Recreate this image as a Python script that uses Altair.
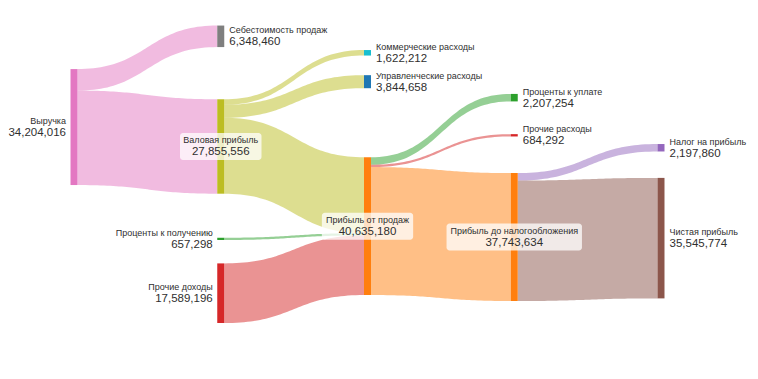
import altair as alt
import pandas as pd
import numpy as np

# ---------------- data ----------------
node_names = ["Выручка", "Себестоимость продаж", "Валовая прибыль", "Проценты к получению",
              "Прочие доходы", "Коммерческие расходы", "Управленческие расходы",
              "Прибыль от продаж", "Проценты к уплате", "Прочие расходы",
              "Прибыль до налогообложения", "Налог на прибыль", "Чистая прибыль"]
node_values = [34204016, 6348460, 27855556, 657298, 17589196, 1622212, 3844658,
               40635180, 2207254, 684292, 37743634, 2197860, 35545774]
node_colors = ["#e377c2", "#7f7f7f", "#bcbd22", "#2ca02c", "#d62728", "#17becf", "#1f77b4",
               "#ff7f0e", "#2ca02c", "#d62728", "#ff7f0e", "#9467bd", "#8c564b"]

link_source = [0, 0, 2, 2, 2, 3, 4, 7, 7, 7, 10, 10]
link_target = [1, 2, 5, 6, 7, 7, 7, 8, 9, 10, 11, 12]
link_values = [6348460, 27855556, 1622212, 3844658, 22388686, 657298, 17589196,
               2207254, 684292, 37743634, 2197860, 35545774]
link_colors = ["#e377c2", "#e377c2", "#bcbd22", "#bcbd22", "#bcbd22", "#2ca02c", "#d62728",
               "#2ca02c", "#d62728", "#ff7f0e", "#9467bd", "#8c564b"]

# ---------------- layout parameters (like plotly node.x / node.y) ----------------
node_col = [0, 1, 1, 1, 1, 2, 2, 2, 3, 3, 3, 4, 4]
node_ypos = [0.328, 0.078, 0.3815, 0.636, 0.7857, 0.1234, 0.203, 0.601,
             0.247, 0.3507, 0.631, 0.385, 0.634]
node_side = ["left", "right", "center", "left", "left", "right", "right", "center",
             "right", "right", "center", "right", "right"]

W, H = 742, 363
PX_COL = 146.75
X0 = 62.5
NODE_W = 7 / PX_COL
PX_PER_VAL = 3.39e-6
xdom = [-X0 / PX_COL, (W - X0) / PX_COL]
ymax = H / PX_PER_VAL
ydom = [0, ymax]

n = len(node_names)
top = [node_ypos[i] * ymax - node_values[i] / 2 for i in range(n)]

# link stacking
out_off = {}
in_off = {}
for i in range(n):
    outs = sorted([k for k in range(len(link_source)) if link_source[k] == i],
                  key=lambda k: node_ypos[link_target[k]])
    acc = top[i]
    for k in outs:
        out_off[k] = acc
        acc += link_values[k]
    ins = sorted([k for k in range(len(link_target)) if link_target[k] == i],
                 key=lambda k: node_ypos[link_source[k]])
    acc = top[i]
    for k in ins:
        in_off[k] = acc
        acc += link_values[k]

X = lambda f: alt.X(f, type="quantitative", scale=alt.Scale(domain=xdom), axis=None)
Y = lambda f: alt.Y(f, type="quantitative", scale=alt.Scale(domain=ydom, reverse=True),
                    axis=None, stack=None)

ts = np.linspace(0, 1, 49)
link_layers = []
for k in range(len(link_source)):
    s, t_ = link_source[k], link_target[k]
    x0 = node_col[s] + NODE_W
    x1 = node_col[t_]
    xm = (x0 + x1) / 2
    ya, yb = out_off[k], in_off[k]
    rows = []
    for t in ts:
        x = (1 - t) ** 3 * x0 + 3 * (1 - t) ** 2 * t * xm + 3 * (1 - t) * t ** 2 * xm + t ** 3 * x1
        f = 3 * t ** 2 - 2 * t ** 3
        y = ya + (yb - ya) * f
        rows.append({"x": float(x), "ya": float(y), "yb": float(y + link_values[k])})
    link_layers.append(
        alt.Chart(pd.DataFrame(rows)).mark_area(
            opacity=0.5, interpolate="linear", color=link_colors[k]
        ).encode(x=X("x"), y=Y("ya"), y2="yb:Q")
    )

nodes_df = pd.DataFrame({
    "name": node_names,
    "x": node_col,
    "x2": [c + NODE_W for c in node_col],
    "y": top,
    "y2": [top[i] + node_values[i] for i in range(n)],
    "color": node_colors,
})

lab = pd.DataFrame({
    "name": node_names,
    "val": [f"{v:,}" for v in node_values],
    "side": node_side,
    "xl": node_col,
    "xr": [c + NODE_W for c in node_col],
    "xc": [c + NODE_W / 2 for c in node_col],
    "yc": [node_ypos[i] * ymax for i in range(n)],
})
box = lab[lab.side == "center"].copy()
bw = np.array([(4.9 * len(s) + 8) / PX_COL for s in box["name"]])
box["bx"] = box["xc"] - bw / 2
box["bx2"] = box["xc"] + bw / 2
box["by"] = box["yc"] - 13.5 / PX_PER_VAL
box["by2"] = box["yc"] + 13.5 / PX_PER_VAL

nodes = alt.Chart(nodes_df).mark_rect().encode(
    x=X("x"), x2="x2:Q", y=Y("y"), y2="y2:Q", color=alt.Color("color:N", scale=None))

boxes = alt.Chart(box).mark_rect(color="white", opacity=0.75, cornerRadius=3).encode(
    x=X("bx"), x2="bx2:Q", y=Y("by"), y2="by2:Q")

FONT = "Liberation Sans"
TXT = "#2f2f2f"
layers = link_layers + [nodes, boxes]
for side, xf, align, dx in [("left", "xl", "right", -4.5), ("right", "xr", "left", 5),
                            ("center", "xc", "center", 0)]:
    d = lab[lab.side == side]
    layers.append(alt.Chart(d).mark_text(align=align, baseline="middle", dx=dx, dy=-6,
                                         font=FONT, fontSize=9, color=TXT).encode(
        x=X(xf), y=Y("yc"), text="name:N"))
    layers.append(alt.Chart(d).mark_text(align=align, baseline="middle", dx=dx, dy=6,
                                         font=FONT, fontSize=11.5, color=TXT).encode(
        x=X(xf), y=Y("yc"), text="val:N"))

chart = alt.layer(*layers).properties(
    width=W, height=H, padding=0, autosize="none"
).configure_view(stroke=None)

chart.save("out.html", embed_options={"renderer": "svg", "actions": False})
